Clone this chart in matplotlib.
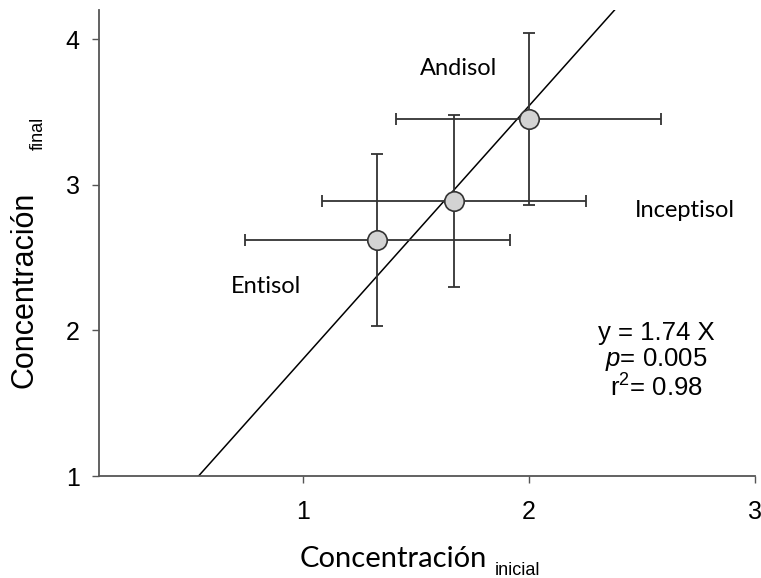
import numpy as np
import matplotlib
matplotlib.use('Agg')
import matplotlib.pyplot as plt

plt.rcParams['mathtext.fontset'] = 'custom'
plt.rcParams['mathtext.it'] = 'Liberation Sans:italic'
plt.rcParams['mathtext.rm'] = 'Liberation Sans'

# data
x_ini = [1.33, 1.67, 2.00]
y_fin = [2.62, 2.89, 3.45]
x_err = [0.585, 0.585, 0.585]
y_err = [0.59, 0.59, 0.59]
slope = 1.74
intercept = 0.06
soil_names = ['Entisol', 'Andisol', 'Inceptisol']
soil_x = [0.84, 1.69, 2.69]
soil_y = [2.30, 3.80, 2.82]

W, H = 761, 578
fig = plt.figure(figsize=(W / 100, H / 100), dpi=100)
ax = fig.add_axes([99 / W, 1 - 476 / H, (755 - 99) / W, (476 - 10) / H])

def px(x, y):
    return x / W, 1 - y / H

dark = '#333333'

xx = np.linspace(0.1, 3.0, 50)
ax.plot(xx, slope * xx + intercept, color='black', lw=1.1, zorder=2)

ax.errorbar(x_ini, y_fin, xerr=x_err, yerr=y_err, fmt='none', ecolor=dark,
            elinewidth=1.3, capsize=4, capthick=1.3, zorder=3)
ax.plot(x_ini, y_fin, 'o', ms=14, mfc='#d3d3d3', mec=dark, mew=1.2, zorder=4)

ax.set_xlim(0.1, 3.0)
ax.set_ylim(1.0, 4.2)
ax.set_xticks([1, 2, 3])
ax.set_yticks([1, 2, 3, 4])
for s in ['top', 'right']:
    ax.spines[s].set_visible(False)
for s in ['left', 'bottom']:
    ax.spines[s].set_color('#555555')
    ax.spines[s].set_linewidth(1.3)
ax.tick_params(direction='out', length=5, width=1.0, color='#555555',
               labelsize=18, pad=9)
ax.tick_params(axis='x', pad=12)
for lab in ax.get_xticklabels() + ax.get_yticklabels():
    lab.set_family('Liberation Sans')

for name, sx, sy in zip(soil_names, soil_x, soil_y):
    ax.text(sx, sy, name, ha='center', va='center', fontsize=17, family='Lato')

eq_x = 2.565
ax.text(eq_x, 1.983, 'y = 1.74 X', ha='center', va='center', fontsize=18.5,
        family='Liberation Sans')
ax.text(eq_x, 1.80, r'$\mathit{p}$= 0.005', ha='center', va='center', fontsize=18.5,
        family='Liberation Sans')
ax.text(eq_x, 1.605, r'r$^{\mathregular{2}}$= 0.98', ha='center', va='center',
        fontsize=18.5, family='Liberation Sans')

# axis labels built from pieces (main word + subscript)
fig.text(*px(393, 567), 'Concentración', ha='center', va='baseline',
         fontsize=21, family='Lato')
fig.text(*px(517, 575), 'inicial', ha='center', va='baseline',
         fontsize=13, family='Liberation Sans')
fig.text(*px(33, 290), 'Concentración', ha='center', va='baseline',
         rotation=90, rotation_mode='anchor', fontsize=22, family='Liberation Sans')
fig.text(*px(43, 133), 'final', ha='center', va='baseline',
         rotation=90, rotation_mode='anchor', fontsize=13, family='Liberation Sans')

fig.savefig('out.png', dpi=100)
